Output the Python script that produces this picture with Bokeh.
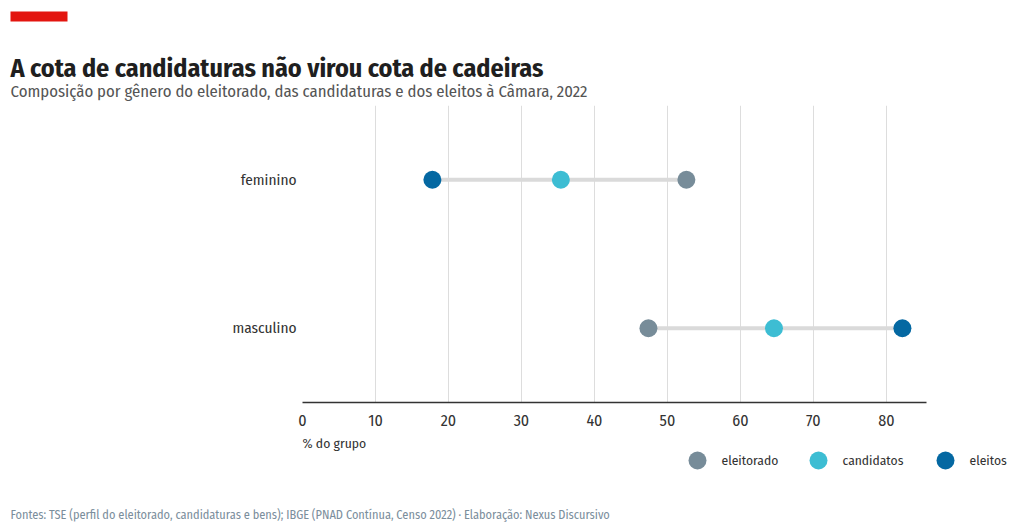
from bokeh.plotting import figure
from bokeh.models import Label, FactorRange, ColumnDataSource
from bokeh.layouts import column
from bokeh.embed import file_html
from bokeh.resources import INLINE

generos = ["feminino", "masculino"]
eleitorado = [52.6, 47.4]
candidatos = [35.4, 64.6]
eleitos = [17.8, 82.2]
series_names = ["eleitorado", "candidatos", "eleitos"]
series_colors = ["#778c99", "#3dbdd3", "#0468a2"]
ticks = [0, 10, 20, 30, 40, 50, 60, 70, 80]

FONT = "'Fira Sans Condensed', 'Liberation Sans Narrow', 'DejaVu Sans Condensed', sans-serif"

W = 1016
HEAD_H = 105
MAIN_H = 325
FOOT_H = 94


def blank(h, y0):
    f = figure(width=W, height=h, x_range=(0, W), y_range=(y0 + h, y0),
               output_backend="svg", toolbar_location=None,
               x_axis_location=None, y_axis_location=None,
               min_border=0, min_border_left=0, min_border_right=0,
               min_border_top=0, min_border_bottom=0)
    f.outline_line_color = None
    f.grid.visible = False
    f.border_fill_color = "white"
    return f


def lab(f, text, X, Y, size, color, style="normal"):
    f.add_layout(Label(x=X, y=Y, text=text, text_font=FONT, text_font_size=size,
                       text_color=color, text_font_style=style,
                       text_baseline="middle", text_align="left"))


# header
head = blank(HEAD_H, 0)
head.quad(left=[10], right=[67], top=[11], bottom=[21], fill_color="#e3150f", line_color=None)
lab(head, "A cota de candidaturas não virou cota de cadeiras", 10, 68, "26px", "#1f1f1f", "bold")
lab(head, "Composição por gênero do eleitorado, das candidaturas e dos eleitos à Câmara, 2022",
    10, 90.5, "16.7px", "#555555")

# main chart
p = figure(width=W, height=MAIN_H, y_range=FactorRange(factors=generos[::-1], range_padding=0),
           x_range=(0, 85.5), output_backend="svg", toolbar_location=None,
           min_border_left=302, min_border_right=W - 926, min_border_top=0,
           min_border_bottom=MAIN_H - 297)
p.outline_line_color = None
p.border_fill_color = "white"

lo = [min(a, b, c) for a, b, c in zip(eleitorado, candidatos, eleitos)]
hi = [max(a, b, c) for a, b, c in zip(eleitorado, candidatos, eleitos)]
p.segment(x0=lo, x1=hi, y0=generos, y1=generos, line_color="#dadada", line_width=4)

for name, vals, col in zip(series_names, [eleitorado, candidatos, eleitos], series_colors):
    src = ColumnDataSource(dict(x=vals, y=generos))
    p.scatter("x", "y", source=src, size=18, fill_color=col, line_color=None)

p.xaxis.ticker = ticks
p.xaxis.axis_line_color = "#333333"
p.xaxis.axis_line_width = 1.5
p.xaxis.major_tick_line_color = None
p.xaxis.minor_tick_line_color = None
p.xaxis.major_label_text_font = FONT
p.xaxis.major_label_text_font_size = "16px"
p.xaxis.major_label_text_color = "#333333"
p.xaxis.major_label_standoff = 6

p.yaxis.axis_line_color = None
p.yaxis.major_tick_line_color = None
p.yaxis.minor_tick_line_color = None
p.yaxis.major_label_text_font = FONT
p.yaxis.major_label_text_font_size = "15.3px"
p.yaxis.major_label_text_color = "#333333"
p.yaxis.major_label_standoff = 0

p.xgrid.ticker = ticks
p.xgrid.grid_line_color = "#dddddd"
p.xgrid.grid_line_width = 1
p.ygrid.grid_line_color = None

# footer with legend
Y0 = HEAD_H + MAIN_H
foot = blank(FOOT_H, Y0)
lab(foot, "% do grupo", 302, 442.5, "13.6px", "#333333")
leg_x = [697, 818, 945]
foot.scatter(x=leg_x, y=[460] * 3, size=18, fill_color=series_colors, line_color=None)
for name, gx in zip(series_names, leg_x):
    lab(foot, name, gx + 24, 460, "13.5px", "#333333")
lab(foot, "Fontes: TSE (perfil do eleitorado, candidaturas e bens); IBGE (PNAD Contínua, Censo 2022) · Elaboração: Nexus Discursivo",
    10, 514, "12.3px", "#7b8e9c")

layout = column(column(head), column(p), column(foot), spacing=0)
open("out.html", "w").write(file_html(layout, INLINE))
